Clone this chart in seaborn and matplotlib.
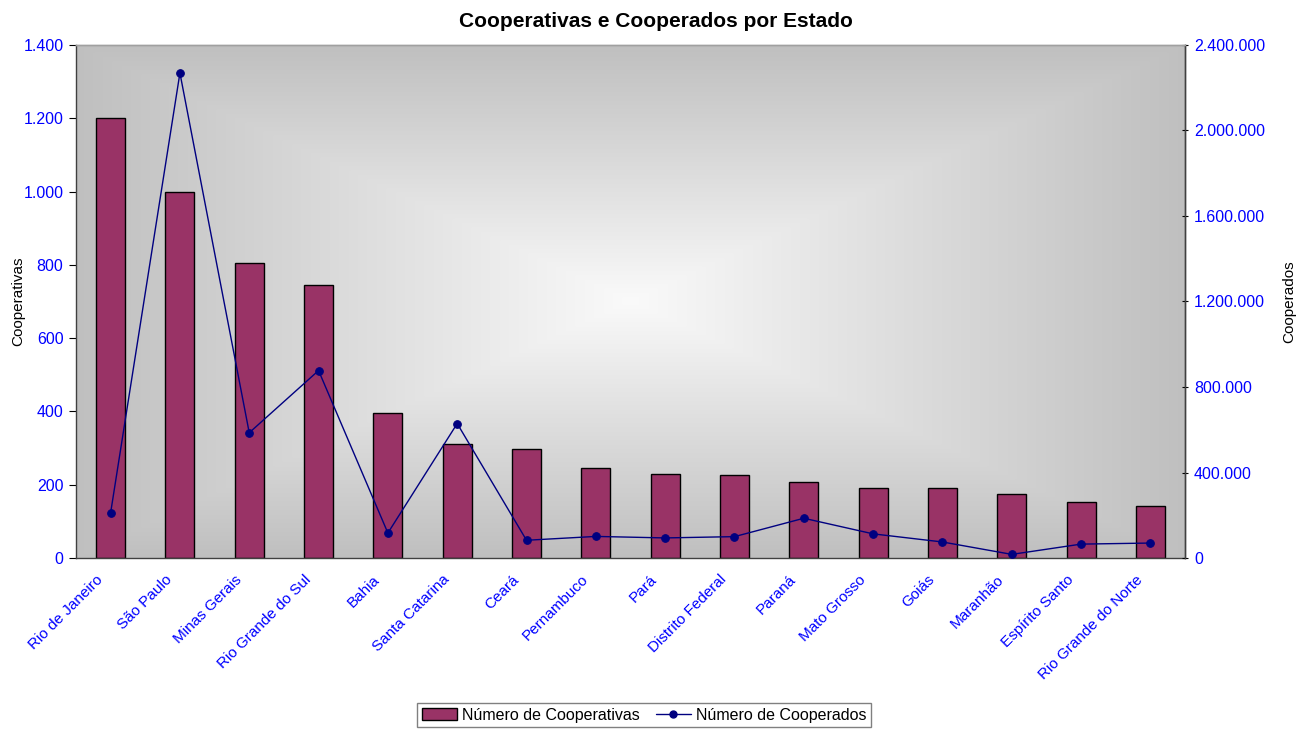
import numpy as np
import pandas as pd
import matplotlib
matplotlib.use("Agg")
import matplotlib.pyplot as plt
import matplotlib.transforms as mtransforms
from matplotlib.ticker import FuncFormatter, MultipleLocator
from matplotlib.patches import Patch
from matplotlib.lines import Line2D
import seaborn as sns

estados = [
    "Rio de Janeiro", "São Paulo", "Minas Gerais", "Rio Grande do Sul", "Bahia",
    "Santa Catarina", "Ceará", "Pernambuco", "Pará", "Distrito Federal",
    "Paraná", "Mato Grosso", "Goiás", "Maranhão", "Espírito Santo",
    "Rio Grande do Norte",
]
cooperativas = [1200, 1000, 805, 745, 395, 312, 298, 246, 230, 227,
                208, 191, 191, 175, 154, 143]
cooperados = [211000, 2269000, 586000, 877000, 117000, 629000, 83000, 101000,
              94000, 100000, 186000, 113000, 75000, 17000, 65000, 70000]

sns.set_style("white")
plt.rcParams["font.family"] = ["Liberation Sans", "DejaVu Sans"]
plt.rcParams["text.color"] = "black"
plt.rcParams["axes.labelcolor"] = "black"

df = pd.DataFrame({"Estado": estados, "Cooperativas": cooperativas,
                   "Cooperados": cooperados})

fig = plt.figure(figsize=(12.96, 7.30), dpi=100)
ax = fig.add_axes([0.0586, 0.2356, 0.8558, 0.7028])

# rectangular "from centre" gradient: white centre fading to grey edges
ny, nx = 300, 600
yy, xx = np.mgrid[-1:1:ny * 1j, -1:1:nx * 1j]
t = np.maximum(np.abs(xx), np.abs(yy))
t = np.clip(t, 0, 1)
light, dark = 0.98, 0.75
shade = light + (dark - light) * t
bg = np.dstack([shade, shade, shade])
ax.imshow(bg, extent=(0, 1, 0, 1), transform=ax.transAxes, aspect="auto",
          zorder=0, interpolation="bilinear")

sns.barplot(data=df, x="Estado", y="Cooperativas", ax=ax, color="#993366",
            saturation=1, width=0.42, edgecolor="black", linewidth=1,
            zorder=2)
ax.set_xlim(-0.5, len(estados) - 0.5)
ax.set_ylim(0, 1400)
ax.yaxis.set_major_locator(MultipleLocator(200))

ax2 = ax.twinx()
sns.lineplot(data=df, x="Estado", y="Cooperados", ax=ax2, sort=False,
             color="#000080", linewidth=1, marker="o", markersize=5.5,
             markeredgecolor="#000080", zorder=3)
ax2.set_ylim(0, 2400000)
ax2.yaxis.set_major_locator(MultipleLocator(400000))
ax.set_xlim(-0.5, len(estados) - 0.5)

fmt = FuncFormatter(lambda v, p: f"{int(round(v)):,}".replace(",", "."))
ax.yaxis.set_major_formatter(fmt)
ax2.yaxis.set_major_formatter(fmt)

blue = "#0000FF"
ax.tick_params(axis="y", colors="black", labelcolor=blue, labelsize=11.5,
               length=5, width=0.8, direction="out", pad=4)
ax2.tick_params(axis="y", colors="black", labelcolor=blue, labelsize=11.5,
                length=5, width=0.8, direction="inout", pad=4)
ax.tick_params(axis="x", length=0, labelcolor=blue, labelsize=11, pad=14)
shift = mtransforms.ScaledTranslation(-10 / 100, 0, fig.dpi_scale_trans)
for lab in ax.get_xticklabels():
    lab.set_rotation(45)
    lab.set_ha("right")
    lab.set_va("center")
    lab.set_rotation_mode("anchor")
    lab.set_transform(lab.get_transform() + shift)

ax.set_xlabel("")
ax.set_ylabel("Cooperativas", fontsize=11)
ax2.set_ylabel("Cooperados", fontsize=11)
ax.yaxis.set_label_coords(-0.046, 0.5)
ax2.yaxis.set_label_coords(1.0875, 0.5)

for a in (ax, ax2):
    for side, sp in a.spines.items():
        sp.set_linewidth(1)
        sp.set_color("#404040")
    a.spines["top"].set_color("#A0A0A0")
ax2.spines["left"].set_visible(False)
ax2.spines["bottom"].set_visible(False)

fig.text(0.506, 0.971, "Cooperativas e Cooperados por Estado", ha="center",
         va="center", fontsize=15, fontweight="bold", color="black")

handles = [
    Patch(facecolor="#993366", edgecolor="black", linewidth=1,
          label="Número de Cooperativas"),
    Line2D([0], [0], color="#000080", linewidth=1, marker="o", markersize=5,
           label="Número de Cooperados"),
]
leg = fig.legend(handles=handles, loc="center", ncol=2,
                 bbox_to_anchor=(0.497, 0.0205), frameon=True, fancybox=False,
                 edgecolor="#808080", fontsize=11.5, handlelength=2.2,
                 handletextpad=0.3, columnspacing=1.0, borderpad=0.3,
                 framealpha=1)
leg.get_frame().set_linewidth(1)
for txt in leg.get_texts():
    txt.set_color("black")

fig.savefig("out.png", dpi=100, facecolor="white")
